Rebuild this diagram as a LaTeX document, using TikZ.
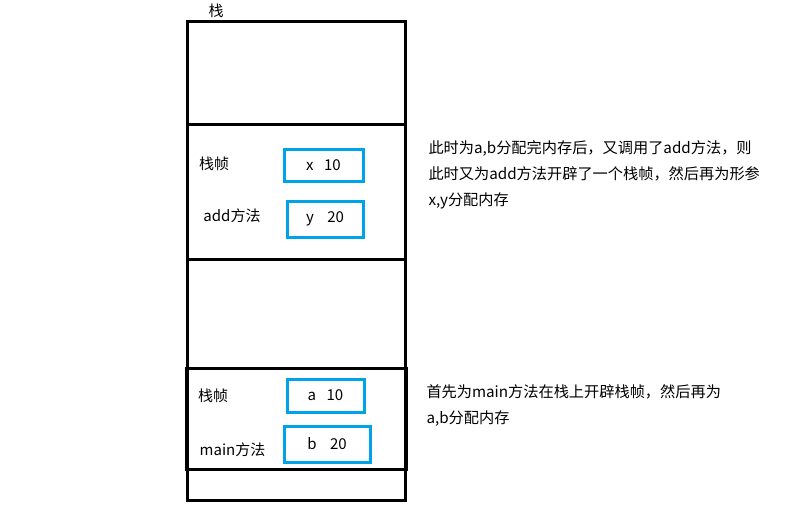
\documentclass[tikz,border=0pt]{standalone}
\usepackage{fontspec}
\setmainfont{Noto Sans CJK SC}
\usetikzlibrary{positioning}
\definecolor{boxblue}{HTML}{00A2E8}

\begin{document}
\begin{tikzpicture}[x=1pt, y=-1pt, line width=3pt,
    varbox/.style={draw=boxblue, line width=3pt, inner sep=0pt, minimum height=32pt, font=\fontsize{15}{17}\selectfont},
    lbl/.style={inner sep=0pt, font=\fontsize{15}{17}\selectfont},
    note/.style={anchor=north west, inner sep=0pt, align=left, font=\fontsize{15.2}{26}\selectfont}]
    \useasboundingbox (0,0) rectangle (793,512);
    % the stack
    \draw (187,21) rectangle (405,500);
    \draw (187,124) -- (405,124);
    \draw (187,259) -- (405,259);
    \draw (186,368) rectangle (406,469);
    \node[lbl] (stack) at (216,11) {栈};
    % add frame
    \node[lbl] (addframe) at (214,164) {栈帧};
    \node[lbl] (addname) at (232,216) {add方法};
    \node[varbox, minimum width=79pt] (x) at (323.5,165) {x\hspace{0.7em}10};
    \node[varbox, minimum width=76pt, minimum height=36pt] (y) at (325,219) {y\hspace{0.9em}20};
    % main frame
    \node[lbl] (mainframe) at (213,396) {栈帧};
    \node[lbl] (mainname) at (232.5,450) {main方法};
    \node[varbox, minimum width=77pt, minimum height=33pt] (a) at (325.5,395.5) {a\hspace{0.7em}10};
    \node[varbox, minimum width=86pt, minimum height=36pt] (b) at (327,444) {b\hspace{0.9em}20};
    % notes
    \node[note] (addnote) at (427,139) {此时为a,b分配完内存后，又调用了add方法，则\\此时又为add方法开辟了一个栈帧，然后再为形参\\x,y分配内存};
    \node[note] (mainnote) at (425,383) {首先为main方法在栈上开辟栈帧，然后再为\\a,b分配内存};
\end{tikzpicture}
\end{document}
